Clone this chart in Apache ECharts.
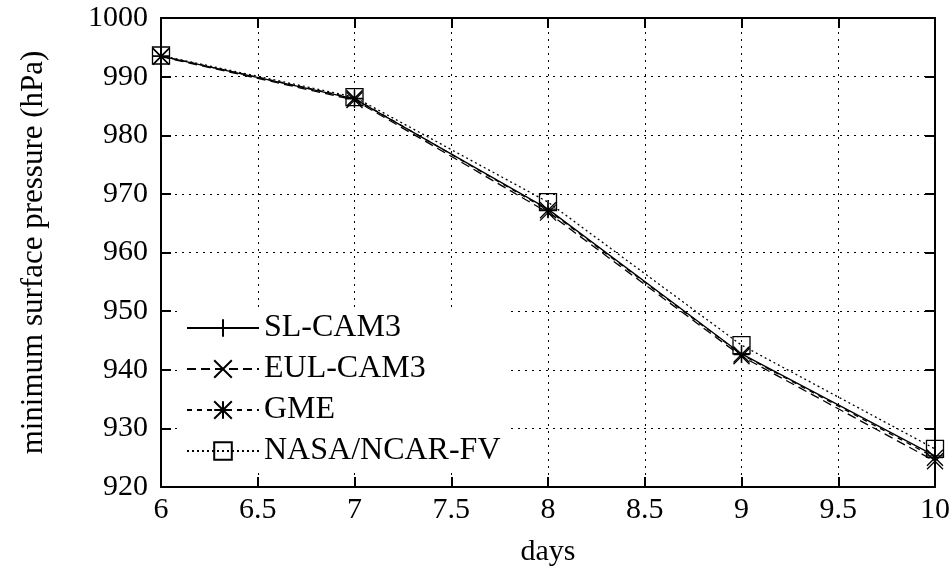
<!DOCTYPE html>
<html>
<head>
<meta charset="utf-8">
<script src="https://cdn.jsdelivr.net/npm/echarts@6/dist/echarts.min.js"></script>
<style>
  html, body { margin: 0; padding: 0; background: #fff; }
  #chart { width: 951px; height: 567px; }
</style>
</head>
<body>
<div id="chart"></div>
<script>
const days = [6, 7, 8, 9, 10]
const slCam3 = [993.5, 986.2, 967.4, 942.7, 925.3]
const eulCam3 = [993.4, 986.0, 966.8, 942.3, 924.4]
const gme = [993.5, 986.3, 967.2, 942.6, 925.0]
const nasaFv = [993.6, 986.5, 968.6, 944.2, 926.5]
const seriesNames = ['SL-CAM3', 'EUL-CAM3', 'GME', 'NASA/NCAR-FV']

const font = 'Liberation Serif, Times New Roman, serif'

const symbols = {
    plus: 'path://M0,-10L0,10M-10,0L10,0',
    cross: 'path://M-10,-10L10,10M-10,10L10,-10',
    star: 'path://M0,-10L0,10M-10,0L10,0M-10,-10L10,10M-10,10L10,-10',
    square: 'path://M-10,-10L10,-10L10,10L-10,10Z'
}

const makeSeries = (name, values, symbol, dash, size) => ({
    name: name,
    type: 'line',
    data: days.map((d, i) => [d, values[i]]),
    symbol: symbol,
    symbolSize: size,
    showAllSymbol: true,
    lineStyle: { color: '#000', width: 1.3, type: dash },
    itemStyle: { color: 'rgba(0,0,0,0)', borderColor: '#000', borderWidth: 1.3 },
    emphasis: { disabled: true }
})

const axisCommon = {
    axisLine: { show: true, lineStyle: { color: '#000', width: 2 } },
    axisTick: { show: true, inside: true, length: 10, lineStyle: { color: '#000', width: 2 } }
}

const option = {
    animation: false,
    backgroundColor: '#fff',
    textStyle: { fontFamily: font, color: '#000' },
    grid: { left: 161, right: 16, top: 18, bottom: 80, containLabel: false, outerBoundsMode: 'none' },
    legend: {
        orient: 'vertical',
        left: 180,
        top: 308,
        itemWidth: 72,
        itemHeight: 22,
        itemGap: 9,
        padding: [4, 8, 4, 6],
        backgroundColor: '#fff',
        textStyle: { fontFamily: font, fontSize: 32, color: '#000' },
        data: seriesNames
    },
    xAxis: [{
        type: 'value',
        min: 6, max: 10, interval: 0.5,
        name: 'days',
        nameLocation: 'middle',
        nameGap: 50,
        nameTextStyle: { fontFamily: font, fontSize: 30, color: '#000' },
        axisLabel: { fontFamily: font, fontSize: 30, color: '#000', margin: 8 },
        splitLine: { show: true, lineStyle: { color: '#000', width: 1, type: [2, 5] } },
        ...axisCommon
    }, {
        type: 'value',
        position: 'top',
        min: 6, max: 10, interval: 0.5,
        axisLabel: { show: false },
        splitLine: { show: false },
        ...axisCommon
    }],
    yAxis: [{
        type: 'value',
        min: 920, max: 1000, interval: 10,
        name: 'minimum surface pressure (hPa)',
        nameLocation: 'middle',
        nameGap: 112,
        nameTextStyle: { fontFamily: font, fontSize: 31, color: '#000' },
        axisLabel: { fontFamily: font, fontSize: 30, color: '#000', margin: 13, formatter: v => String(v) },
        splitLine: { show: true, lineStyle: { color: '#000', width: 1, type: [2, 5] } },
        ...axisCommon
    }, {
        type: 'value',
        position: 'right',
        min: 920, max: 1000, interval: 10,
        axisLabel: { show: false },
        splitLine: { show: false },
        ...axisCommon
    }],
    series: [
        makeSeries(seriesNames[0], slCam3, symbols.plus, 'solid', 18),
        makeSeries(seriesNames[1], eulCam3, symbols.cross, [9, 5], 16),
        makeSeries(seriesNames[2], gme, symbols.star, [5, 5], 16),
        makeSeries(seriesNames[3], nasaFv, symbols.square, [2, 3], 17)
    ]
}

const chart = echarts.init(document.getElementById('chart'))
chart.setOption(option)
</script>
</body>
</html>
